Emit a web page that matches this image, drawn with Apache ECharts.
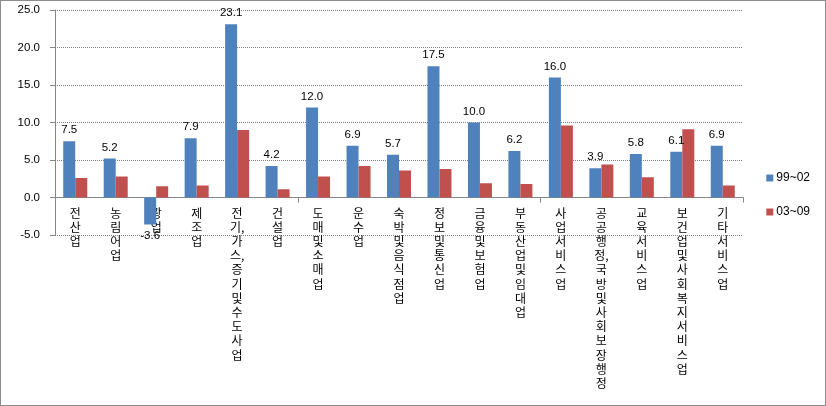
<!DOCTYPE html>
<html><head><meta charset="utf-8">
<script src="https://cdn.jsdelivr.net/npm/echarts@6/dist/echarts.min.js"></script>
<style>html,body{margin:0;padding:0;background:#fff}#c{width:826px;height:406px;box-sizing:border-box;border:1px solid #8c8c8c}</style>
</head><body><div id="c"></div>
<script>
const categories = ['전산업','농림어업','광업','제조업','전기,가스,증기및수도사업','건설업','도매및소매업','운수업','숙박및음식점업','정보및통신업','금융및보험업','부동산업및임대업','사업서비스업','공공행정,국방및사회보장행정','교육서비스업','보건업및사회복지서비스업','기타서비스업'];
const series1Name = '99~02';
const series2Name = '03~09';
const series1 = [7.5,5.2,-3.6,7.9,23.1,4.2,12.0,6.9,5.7,17.5,10.0,6.2,16.0,3.9,5.8,6.1,6.9];
const series2 = [2.6,2.8,1.5,1.6,9.0,1.1,2.8,4.2,3.6,3.8,1.9,1.8,9.6,4.4,2.7,9.1,1.6];
const yTicks = {min:-5, max:25, interval:5};

function vert(s){
  const out=[];
  for(const ch of s){ if(ch===',' && out.length){ out[out.length-1]+=ch; } else out.push(ch); }
  return out.join('\n');
}
const numFont = 'Liberation Sans';
const chart = echarts.init(document.getElementById('c'), null, {renderer:'canvas'});
chart.setOption({
  animation:false,
  backgroundColor:'#fff',
  grid:{left:54, right:82, top:9, bottom:170, containLabel:false},
  legend:{
    orient:'vertical', right:10, top:166, itemWidth:7, itemHeight:7, itemGap:22,
    icon:'rect',
    textStyle:{fontFamily:numFont, fontSize:12, color:'#000', padding:[0,0,0,-2]},
    data:[series1Name, series2Name]
  },
  xAxis:[{
    type:'category', data:categories,
    axisLine:{onZero:true, lineStyle:{color:'#868686', width:1}},
    axisTick:{show:true, length:5, lineStyle:{color:'#868686'}},
    axisLabel:{show:false}
  },{
    type:'category', data:categories, position:'bottom', offset:-29,
    axisLine:{show:false, onZero:false}, axisTick:{show:false}, splitLine:{show:false},
    axisLabel:{interval:0, margin:0, fontFamily:'Noto Sans CJK KR', fontSize:12, lineHeight:14.2, color:'#000', verticalAlign:'top', formatter:v=>vert(v)}
  }],
  yAxis:{
    type:'value', min:yTicks.min, max:yTicks.max, interval:yTicks.interval,
    axisLine:{show:true, lineStyle:{color:'#868686'}},
    axisTick:{show:true, length:5, lineStyle:{color:'#868686'}},
    axisLabel:{margin:15, fontFamily:numFont, fontSize:11.5, color:'#000', formatter:v=>v.toFixed(1)},
    splitLine:{show:true, lineStyle:{type:'dotted', color:'#7f7f7f', width:1}}
  },
  series:[
    {name:series1Name, type:'bar', data:series1.map(v=>({value:v, label:{position: v<0?'bottom':'top'}})),
     barWidth:12, barGap:'0%', itemStyle:{color:'#4F81BD'},
     label:{show:true, distance:5, fontFamily:numFont, fontSize:11.5, color:'#000', formatter:p=>p.value.toFixed(1)}},
    {name:series2Name, type:'bar', data:series2, barWidth:12, barGap:'0%', itemStyle:{color:'#C0504D'}}
  ]
});
</script></body></html>
